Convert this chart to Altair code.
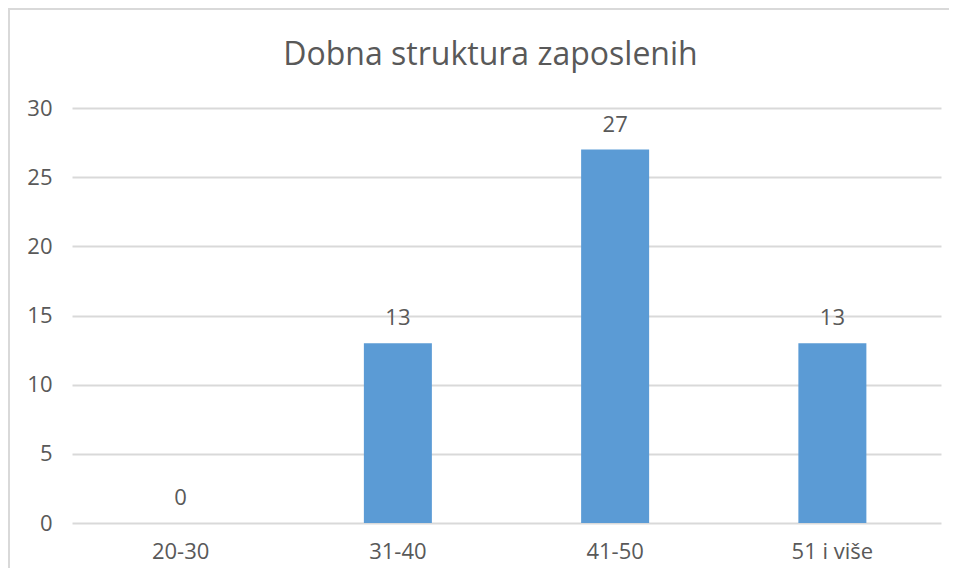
import altair as alt
import pandas as pd

categories = ["20-30", "31-40", "41-50", "51 i više"]
values = [0, 13, 27, 13]
title_text = "Dobna struktura zaposlenih"

df = pd.DataFrame({"grupa": categories, "broj": values})

FONT = "Open Sans"
TXT = "#595959"
W, H = 869, 415

base = alt.Chart(df)

x_enc = alt.X(
    "grupa:N", sort=categories, title=None,
    scale=alt.Scale(paddingInner=0, paddingOuter=0),
    axis=alt.Axis(labelAngle=0, labelFontSize=22, labelFont=FONT, labelColor=TXT,
                  ticks=False, domain=False, labelPadding=18, grid=False),
)
y_enc = alt.Y(
    "broj:Q", title=None,
    scale=alt.Scale(domain=[0, 30], nice=False),
    axis=alt.Axis(values=[0, 5, 10, 15, 20, 25, 30], labelFontSize=22, labelFont=FONT,
                  labelColor=TXT, ticks=False, domain=False, labelPadding=20,
                  gridColor="#d9d9d9", gridWidth=2),
)

bars = base.mark_bar(size=68, color="#5b9bd5").encode(x=x_enc, y=y_enc)
labels = base.mark_text(dy=-18, baseline="alphabetic", fontSize=22, font=FONT, color=TXT).encode(
    x=alt.X("grupa:N", sort=categories), y="broj:Q", text="broj:Q")

one = pd.DataFrame({"a": [0]})
frame_top = alt.Chart(one).mark_rule(color="#d9d9d9", strokeWidth=2).encode(
    x=alt.value(-64), x2=alt.value(W + 8), y=alt.value(-99))
frame_left = alt.Chart(one).mark_rule(color="#d9d9d9", strokeWidth=2).encode(
    x=alt.value(-63), y=alt.value(-100), y2=alt.value(H + 45))

title = alt.Chart(pd.DataFrame({"t": [title_text]})).mark_text(
    font=FONT, fontSize=32, color=TXT, align="center", baseline="alphabetic").encode(
    x=alt.value(W / 2 - 16), y=alt.value(-43), text="t:N")

chart = alt.layer(frame_top, frame_left, bars, labels, title).properties(
    width=W, height=H,
    background="white",
    autosize=alt.AutoSizeParams(type="none"),
    padding={"left": 64, "top": 100, "right": 8, "bottom": 45},
).configure_view(strokeWidth=0, stroke="transparent")

chart.save("out.html", embed_options={"renderer": "svg", "actions": False})
